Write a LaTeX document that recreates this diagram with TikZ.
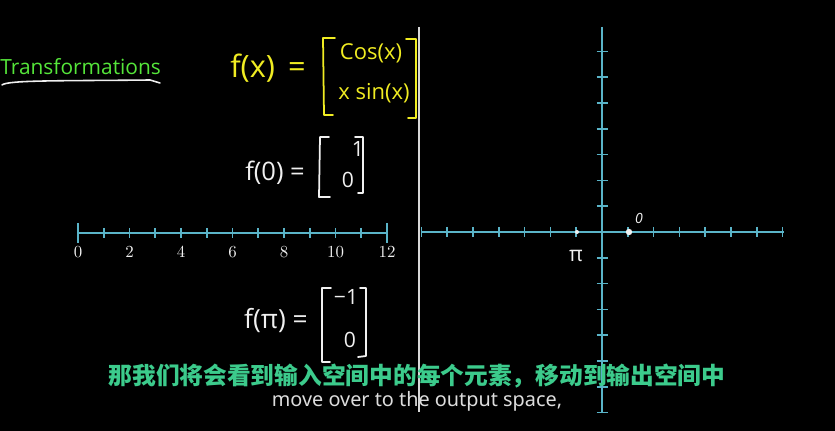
\documentclass[tikz,border=0pt]{standalone}
\usepackage{fontspec}
\newfontfamily\cjk{Noto Sans CJK SC}
\newfontfamily\subfont{Noto Sans}
\newfontfamily\titlefont{Open Sans}
\newfontfamily\hand{Open Sans}
\usetikzlibrary{positioning}
\definecolor{boardgreen}{HTML}{55E63A}
\definecolor{boardyellow}{HTML}{F0EC22}
\definecolor{boardblue}{HTML}{5AB4C8}
\definecolor{subgreen}{HTML}{3CCB8C}
\definecolor{chalk}{HTML}{F0F0F0}

\begin{document}
\begin{tikzpicture}[x=0.02cm, y=-0.02cm,
  axisline/.style={boardblue, line width=1.1pt},
  tick/.style={boardblue, line width=0.9pt},
  bracket/.style={line width=1pt, line cap=round, line join=round},
  numlabel/.style={font=\fontsize{9.6}{11}\selectfont, text=chalk}]
  % Board
  \fill[black] (0,0) rectangle (835,431);

  % Title
  \node[font=\titlefont\fontsize{11.9}{14}\selectfont, text=boardgreen, anchor=west, inner sep=0pt]
    (title) at (0,67) {Transformations};
  \draw[chalk, line width=0.9pt, line cap=round] (2,85) .. controls (8,80) and (60,81) .. (150,80) -- (160,83);

  % f(x) in yellow
  \node[font=\hand\fontsize{17.5}{20}\selectfont, text=boardyellow] (fx) at (268,68) {f(x) \,=};
  \draw[bracket, boardyellow] (335,38) -- (323,38) -- (324,115) -- (333,115);
  \node[font=\hand\fontsize{12.5}{14}\selectfont, text=boardyellow] (cosx) at (371,53) {Cos(x)};
  \node[font=\hand\fontsize{12.5}{14}\selectfont, text=boardyellow] (xsinx) at (374,93) {x sin(x)};
  \draw[bracket, boardyellow] (406,39) -- (416,39) -- (416,118) -- (408,118);

  % f(0)
  \node[font=\hand\fontsize{14.5}{17}\selectfont, text=chalk] (fzero) at (275,173) {f(0) =};
  \draw[bracket, chalk] (329,137) -- (320,137) -- (319,197) -- (330,197);
  \node[font=\hand\fontsize{12}{14}\selectfont, text=chalk] (fzeroa) at (358,149) {1};
  \node[font=\hand\fontsize{12}{14}\selectfont, text=chalk] (fzerob) at (348,180) {0};
  \draw[bracket, chalk] (355,137) -- (363,137) -- (363,193) -- (358,193);

  % f(pi)
  \node[font=\hand\fontsize{15}{17}\selectfont, text=chalk] (fpi) at (276,321) {f(π) =};
  \draw[bracket, chalk] (331,288) -- (322,288) -- (322,362) -- (330,362);
  \node[font=\hand\fontsize{12}{14}\selectfont, text=chalk] (fpia) at (346,297) {−1};
  \node[font=\hand\fontsize{12}{14}\selectfont, text=chalk] (fpib) at (350,340) {0};
  \draw[bracket, chalk] (360,288) -- (366,288) -- (366,356) -- (358,357);

  % Input number line
  \draw[axisline] (78,233) -- (387,233);
  \foreach \i in {1,...,11}
    \draw[tick] (78+25.75*\i,228) -- (78+25.75*\i,238);
  \draw[tick] (78,223) -- (78,243);
  \draw[tick] (387,223) -- (387,243);
  \foreach \i in {0,2,...,12}
    \node[numlabel] (in\i) at (78+25.75*\i,252) {\i};

  % Divider
  \draw[chalk!90!black, line width=1.1pt] (419,27) -- (419,412);

  % Output plane
  \draw[axisline] (421,232) -- (784,232);
  \draw[axisline] (602,27) -- (602,412);
  \foreach \k in {-7,...,7} {
    \draw[tick] (602+25.8*\k,227) -- (602+25.8*\k,237);
    \draw[tick] (596.5,232+25.8*\k) -- (607.5,232+25.8*\k);
  }
  \fill[chalk] (577,232) circle (2);
  \node[font=\hand\fontsize{12}{14}\selectfont, text=chalk] (pilabel) at (576,256) {π};
  \fill[chalk] (629,232) circle (3.2);
  \node[font=\hand\itshape\fontsize{8}{10}\selectfont, text=chalk] (zerolabel) at (639,218) {0};

  % Subtitles
  \node[font=\cjk\bfseries\fontsize{13.5}{16}\selectfont, text=subgreen, inner sep=0pt] (subcn) at (417,376) {那我们将会看到输入空间中的每个元素，移动到输出空间中};
  \node[font=\subfont\fontsize{11.3}{13}\selectfont, text=chalk!92!black, inner sep=0pt] (suben) at (417,401) {move over to the output space,};
\end{tikzpicture}
\end{document}
